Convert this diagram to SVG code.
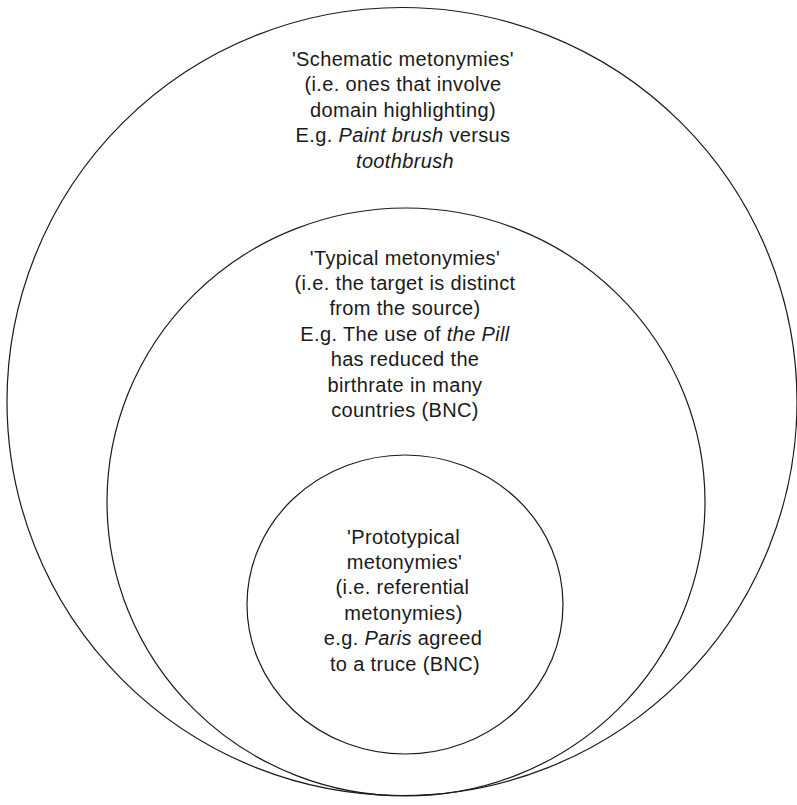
<svg xmlns="http://www.w3.org/2000/svg" width="797" height="805" viewBox="0 0 797 805">
<style>
.ring{fill:none;stroke:#1a1a1a;stroke-width:1.2}
text{font-family:"Liberation Sans",Arial,Helvetica,sans-serif;font-size:20px;fill:#1a1a1a;text-anchor:middle;letter-spacing:0.35px}
.it{font-style:italic}
</style>
<rect width="797" height="805" fill="#fff"/>
<g id="schematic">
<ellipse class="ring" cx="402" cy="401.5" rx="395" ry="394"/>
<text x="403" y="66">'Schematic metonymies'</text>
<text x="403" y="91.4">(i.e. ones that involve</text>
<text x="403" y="116.8">domain highlighting)</text>
<text x="403" y="142.2">E.g. <tspan class="it">Paint brush</tspan> versus</text>
<text x="405" y="167.6" class="it">toothbrush</text>
</g>
<g id="typical">
<ellipse class="ring" cx="406" cy="502" rx="299" ry="294"/>
<text x="405" y="264.5">'Typical metonymies'</text>
<text x="405" y="289.9">(i.e. the target is distinct</text>
<text x="405" y="315.3">from the source)</text>
<text x="405" y="340.7">E.g. The use of <tspan class="it">the Pill</tspan></text>
<text x="405" y="366.1">has reduced the</text>
<text x="405" y="391.5">birthrate in many</text>
<text x="405" y="416.9">countries (BNC)</text>
</g>
<g id="prototypical">
<ellipse class="ring" cx="405" cy="604.5" rx="158" ry="149.5"/>
<text x="403.5" y="543.5">'Prototypical</text>
<text x="404.5" y="568.9">metonymies'</text>
<text x="402.5" y="594.3">(i.e. referential</text>
<text x="403.5" y="619.7">metonymies)</text>
<text x="403" y="645.1">e.g. <tspan class="it">Paris</tspan> agreed</text>
<text x="405" y="670.5">to a truce (BNC)</text>
</g>
<g id="connectors"/>
</svg>
